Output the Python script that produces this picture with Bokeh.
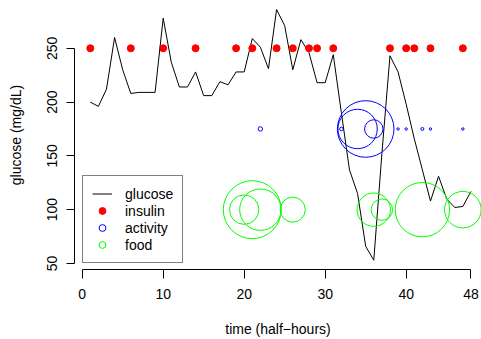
from bokeh.plotting import figure
from bokeh.models import Range1d, FixedTicker, Legend, LegendItem
from bokeh.embed import file_html
from bokeh.resources import INLINE

# ---- data ----
time = list(range(1, 49))
glucose = [200, 196, 212, 260, 230, 208, 209, 209, 209, 278, 237, 214, 214, 228,
           206, 206, 219, 216, 228, 228, 259, 251, 231, 286, 271, 230, 258, 246,
           218, 218, 244, 190, 137, 115, 66, 53, 152, 243, 228, 198, 166, 137,
           108, 131, 110, 102, 103, 117]

insulin_time = [1, 6, 10, 14, 19, 21, 24, 26, 28, 29, 31, 38, 40, 41, 43, 47]
insulin_level = 250

activity_time = [22, 32, 34, 35, 36, 39, 40, 42, 43, 47]
activity_amount = [2.2, 1.8, 19.7, 28.3, 9.2, 1.2, 1.2, 1.5, 1.2, 1.2]
activity_level = 175

food_time = [20, 21, 22, 26, 36, 37, 42, 47]
food_amount = [14.7, 29.0, 20.7, 12.5, 16.7, 10.7, 27.2, 18.3]
food_level = 100

x_ticks = [0, 10, 20, 30, 40, 48]
y_ticks = [50, 100, 150, 200, 250]

# ---- styling constants ----
FONT = "Liberation Sans"
FS = "14px"
SYMBOL_SCALE = 1.0  # screen px of radius per unit amount

p = figure(width=481, height=339, output_backend="svg", toolbar_location=None,
           x_range=Range1d(-0.95, 49.30), y_range=Range1d(44.4, 294.4),
           min_border_left=74, min_border_right=0, min_border_top=0,
           min_border_bottom=69)
p.outline_line_color = None
p.grid.visible = False
p.background_fill_color = "white"
p.border_fill_color = "white"

gl = p.line(time, glucose, line_color="black", line_width=1)
ins = p.scatter(insulin_time, [insulin_level] * len(insulin_time), size=7,
                fill_color="#FF0000", line_color="#FF0000")
act = p.circle(activity_time, [activity_level] * len(activity_time),
               radius=[a * SYMBOL_SCALE for a in activity_amount],
               radius_units="screen", fill_color=None,
               line_color="#0000FF", line_width=1)
fd = p.circle(food_time, [food_level] * len(food_time),
              radius=[a * SYMBOL_SCALE for a in food_amount],
              radius_units="screen", fill_color=None,
              line_color="#00FF00", line_width=1)

for ax in (p.xaxis[0], p.yaxis[0]):
    ax.axis_line_color = "black"
    ax.major_tick_line_color = "black"
    ax.minor_tick_line_color = None
    ax.major_tick_in = 0
    ax.major_label_text_font = FONT
    ax.major_label_text_font_size = FS
    ax.major_label_text_color = "black"
    ax.axis_label_text_font = FONT
    ax.axis_label_text_font_size = FS
    ax.axis_label_text_font_style = "normal"
    ax.axis_label_text_color = "black"

p.xaxis.ticker = FixedTicker(ticks=x_ticks)
p.xaxis.bounds = (x_ticks[0], x_ticks[-1])
p.xaxis.major_tick_out = 9
p.xaxis.major_label_standoff = 10
p.xaxis.axis_label = "time (half\u2212hours)"
p.xaxis.axis_label_standoff = 19

p.yaxis.ticker = FixedTicker(ticks=y_ticks)
p.yaxis.bounds = (y_ticks[0], y_ticks[-1])
p.yaxis.major_tick_out = 8
p.yaxis.major_label_orientation = "parallel"
p.yaxis.major_label_standoff = 9
p.yaxis.axis_label = "glucose (mg/dL)"
p.yaxis.axis_label_standoff = 21

legend = Legend(items=[LegendItem(label="glucose", renderers=[gl]),
                       LegendItem(label="insulin", renderers=[ins]),
                       LegendItem(label="activity", renderers=[act]),
                       LegendItem(label="food", renderers=[fd])],
                location=(8, 6), padding=9, spacing=0, margin=0,
                glyph_width=20, glyph_height=17, label_height=17,
                label_standoff=13, border_line_color="black",
                border_line_width=1, background_fill_color="white",
                background_fill_alpha=1.0, label_text_font=FONT,
                label_text_font_size=FS, label_text_color="black")
p.add_layout(legend, "center")

open("out.html", "w").write(file_html(p, INLINE))
